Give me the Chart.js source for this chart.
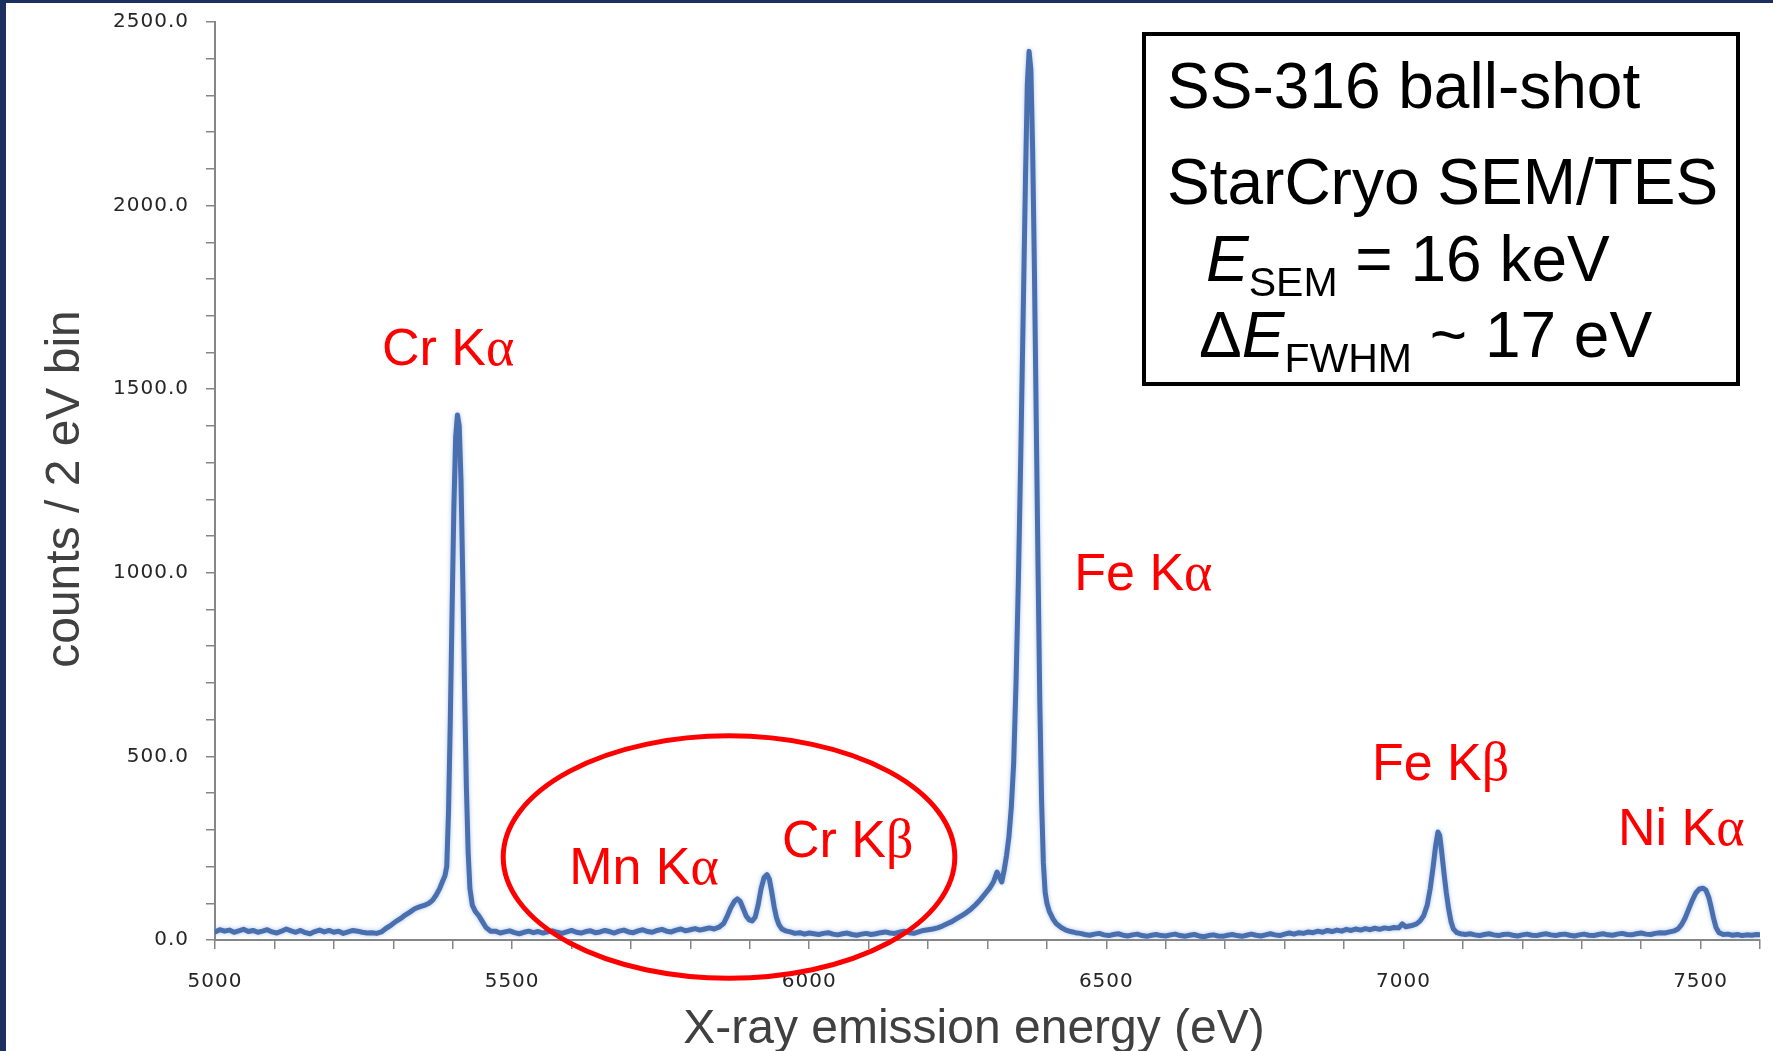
<!DOCTYPE html>
<html>
<head>
<meta charset="utf-8">
<title>SS-316 X-ray emission spectrum</title>
<script src="https://cdn.jsdelivr.net/npm/chart.js@4.4.1/dist/chart.umd.min.js"></script>
<style>
  html, body { margin: 0; padding: 0; background: #ffffff; overflow: hidden; }
  canvas { display: block; }
</style>
</head>
<body>
<canvas id="spectrum" width="1773" height="1051" style="width:1773px;height:1051px"></canvas>
<script>
// Spectrum, [energy (eV), counts per 2 eV bin], split by region of the spectrum.
const bgStart = [
  [5000,22],[5008,28],[5016,24],[5024,27],[5032,21],[5040,25],[5048,29],[5056,23],[5064,26],[5072,21],
  [5080,24],[5088,28],[5096,22],[5104,19],[5112,24],[5120,30],[5128,25],[5136,21],[5144,26],[5152,20],
  [5160,17],[5168,23],[5176,27],[5184,22],[5192,26],[5200,21],[5208,24],[5216,18],[5224,22],[5232,26],
  [5240,24],[5248,21],[5256,19],[5264,20],[5272,18],[5280,22],[5288,32]
];
const crKaRegion = [
  [5296,40],[5304,50],[5312,58],[5320,68],[5328,76],[5336,85],[5344,90],[5352,94],[5360,100],[5366,108],
  [5372,122],[5378,140],[5383,160],[5387,175],[5390,200],[5393,350],[5396,600],[5399,900],[5402,1180],
  [5405,1370],[5408,1430],[5411,1400],[5414,1250],[5417,980],[5420,680],[5423,420],[5426,240],[5429,140],
  [5433,95],[5438,78],[5444,66],[5450,50],[5456,34],[5464,24]
];
const bgMid = [
  [5472,24],[5480,19],[5488,22],[5496,25],[5504,20],[5512,17],[5520,21],[5528,24],[5536,20],[5544,23],
  [5552,19],[5560,22],[5568,25],[5576,21],[5584,18],[5592,22],[5600,26],[5608,21],[5616,19],[5624,23],
  [5632,25],[5640,20],[5648,22],[5656,26],[5664,23],[5672,19],[5680,24],[5688,27],[5696,22],[5704,20],
  [5712,25],[5720,28],[5728,23],[5736,21],[5744,26],[5752,29],[5760,24],[5768,22],[5776,27],[5784,30],
  [5792,25],[5800,28],[5808,31],[5816,27],[5824,30],[5832,33],[5840,30],[5848,35]
];
const mnKaCrKbRegion = [
  [5856,45],[5862,65],[5868,88],[5874,105],[5879,112],[5884,105],[5889,85],[5894,65],[5899,55],[5904,52],
  [5909,62],[5914,95],[5919,140],[5924,170],[5929,178],[5933,165],[5937,130],[5941,90],[5945,60],[5949,42],
  [5954,30],[5960,25]
];
const bgBeforeFe = [
  [5968,22],[5976,18],[5984,20],[5992,16],[6000,19],[6008,17],[6016,15],[6024,18],[6032,20],[6040,16],
  [6048,14],[6056,17],[6064,19],[6072,15],[6080,13],[6088,16],[6096,18],[6104,15],[6112,17],[6120,20],
  [6128,22],[6136,19],[6144,18],[6152,21],[6160,24],[6168,20],[6176,18],[6184,22],[6192,26]
];
const feKaRegion = [
  [6200,28],[6208,30],[6216,33],[6224,38],[6232,44],[6240,50],[6248,58],[6256,66],[6264,74],[6272,84],
  [6280,96],[6288,110],[6296,126],[6304,142],[6310,158],[6316,185],[6320,172],[6324,158],[6328,190],[6332,230],
  [6336,280],[6340,360],[6344,480],[6348,700],[6352,980],[6356,1320],[6360,1700],[6364,2080],[6367,2330],
  [6370,2420],[6373,2370],[6376,2150],[6379,1820],[6382,1420],[6385,1020],[6388,650],[6391,380],[6394,210],
  [6397,130],[6400,100],[6404,78],[6410,58],[6416,44],[6424,34],[6432,27],[6440,23]
];
const bgAfterFe = [
  [6448,20],[6456,18],[6464,15],[6472,13],[6480,16],[6488,18],[6496,14],[6504,12],[6512,15],[6520,17],
  [6528,13],[6536,11],[6544,14],[6552,16],[6560,12],[6568,10],[6576,13],[6584,15],[6592,12],[6600,11],
  [6608,14],[6616,16],[6624,12],[6632,10],[6640,13],[6648,15],[6656,11],[6664,9],[6672,12],[6680,14],
  [6688,11],[6696,10],[6704,13],[6712,15],[6720,12],[6728,10],[6736,13],[6744,16],[6752,13],[6760,11],
  [6768,14],[6776,17],[6784,14],[6792,12],[6800,16],[6808,19],[6816,16],[6824,20],[6832,18],[6840,22],
  [6848,20],[6856,24],[6864,21],[6872,26],[6880,23],[6888,27],[6896,24],[6904,29],[6912,26],[6920,30],
  [6928,27],[6936,31],[6944,28],[6952,32],[6960,29],[6968,33],[6976,31],[6984,34],[6992,33],[6998,44],
  [7004,36],[7010,38],[7016,40],[7022,44]
];
const feKbRegion = [
  [7028,52],[7034,66],[7040,95],[7045,140],[7050,200],[7054,255],[7058,294],[7061,285],[7064,245],[7068,185],
  [7072,130],[7076,85],[7080,50],[7084,30],[7090,20],[7096,17]
];
const bgBeforeNi = [
  [7104,15],[7112,17],[7120,14],[7128,12],[7136,15],[7144,17],[7152,14],[7160,12],[7168,15],[7176,16],
  [7184,13],[7192,11],[7200,14],[7208,16],[7216,13],[7224,12],[7232,15],[7240,17],[7248,14],[7256,12],
  [7264,15],[7272,16],[7280,13],[7288,11],[7296,14],[7304,16],[7312,13],[7320,12],[7328,15],[7336,17],
  [7344,14],[7352,13],[7360,16],[7368,18],[7376,15],[7384,14],[7392,17],[7400,19],[7408,16],[7416,15],
  [7424,18],[7432,20],[7440,19],[7448,22],[7456,25]
];
const niKaRegion = [
  [7462,30],[7468,42],[7474,60],[7480,84],[7486,108],[7492,128],[7498,139],[7504,141],[7509,136],[7514,115],
  [7518,88],[7522,58],[7526,34],[7531,20],[7538,15],[7546,16],[7554,13],[7562,15],[7570,12],[7578,14],
  [7586,13],[7594,15],[7600,14]
];

// Axis tick labels (ticks every 100, labels every 500)
const xTickLabels = ['5000', '5500', '6000', '6500', '7000', '7500'];
const yTickLabels = ['0.0', '500.0', '1000.0', '1500.0', '2000.0', '2500.0'];

// Emission-line labels, anchored at [energy, counts] (left edge, baseline)
const lineNames = ['Cr Kα', 'Mn Kα', 'Cr Kβ', 'Fe Kα', 'Fe Kβ', 'Ni Kα'];
const lineLabelEv = [5281, 5596, 5954, 6446, 6947, 7361];
const lineLabelCounts = [1566, 152, 226, 953, 436, 259];

// Highlight around the weak Mn Kα / Cr Kβ lines: centre and radii in data units
const highlightCentre = [5865, 226];
const highlightRadii = [380, 330];

const spectrum = [
  ...bgStart, ...crKaRegion, ...bgMid, ...mnKaCrKbRegion, ...bgBeforeFe,
  ...feKaRegion, ...bgAfterFe, ...feKbRegion, ...bgBeforeNi, ...niKaRegion
].map(([x, y]) => ({ x, y }));

const SANS = '"Liberation Sans", Arial, sans-serif';
const SERIF = '"Liberation Serif", "Times New Roman", serif';
const GREEK = /[α-ωΑ-Ω]/;

// Draws a run of text pieces one after another: [text, font, baselineShift]
function drawRuns(ctx, x, y, runs, color) {
  ctx.fillStyle = color;
  ctx.textAlign = 'left';
  ctx.textBaseline = 'alphabetic';
  let cx = x;
  for (const [text, font, dy] of runs) {
    ctx.font = font;
    ctx.fillText(text, cx, y + (dy || 0));
    cx += ctx.measureText(text).width;
  }
}

// Splits a line name so Greek letters are set in a serif face
function nameRuns(name, size) {
  const runs = [];
  for (const ch of name) {
    const font = (GREEK.test(ch) ? (size + 2) + 'px ' + SERIF : size + 'px ' + SANS);
    const last = runs[runs.length - 1];
    if (last && last[1] === font) last[0] += ch; else runs.push([ch, font, 0]);
  }
  return runs;
}

const pagePlugin = {
  id: 'page',
  beforeDraw(chart) {
    const { ctx, width, height } = chart;
    ctx.save();
    ctx.fillStyle = '#ffffff';
    ctx.fillRect(0, 0, width, height);
    ctx.fillStyle = '#1d2f5f';
    ctx.fillRect(0, 0, width, 3);
    ctx.fillRect(0, 0, 6, height);
    ctx.restore();
    ctx.letterSpacing = '1px';
  },
  beforeDatasetsDraw(chart) {
    const { ctx } = chart;
    ctx.letterSpacing = '0px';
    // soft halo along the spectrum trace
    ctx.save();
    ctx.shadowColor = 'rgba(110, 150, 215, 0.55)';
    ctx.shadowBlur = 4;
  },
  afterDatasetsDraw(chart) {
    chart.ctx.restore();
  },
  afterDraw(chart) {
    const { ctx } = chart;
    const xs = chart.scales.x, ys = chart.scales.y;
    ctx.save();
    ctx.letterSpacing = '0px';

    // Axis titles
    ctx.fillStyle = '#404040';
    ctx.font = '48px ' + SANS;
    ctx.textAlign = 'center';
    ctx.textBaseline = 'alphabetic';
    ctx.fillText('X-ray emission energy (eV)', 974, 1043);
    ctx.save();
    ctx.translate(79, 489);
    ctx.rotate(-Math.PI / 2);
    ctx.fillText('counts / 2 eV bin', 0, 0);
    ctx.restore();

    // Emission-line labels
    lineNames.forEach((name, i) => {
      const px = xs.getPixelForValue(lineLabelEv[i]);
      const py = ys.getPixelForValue(lineLabelCounts[i]);
      drawRuns(ctx, px, py, nameRuns(name, 52), '#ff0000');
    });

    // Highlight ellipse
    const cx = xs.getPixelForValue(highlightCentre[0]);
    const cy = ys.getPixelForValue(highlightCentre[1]);
    const rx = Math.abs(xs.getPixelForValue(highlightCentre[0] + highlightRadii[0]) - cx);
    const ry = Math.abs(ys.getPixelForValue(highlightCentre[1] + highlightRadii[1]) - cy);
    ctx.beginPath();
    ctx.ellipse(cx, cy, rx, ry, 0, 0, Math.PI * 2);
    ctx.strokeStyle = '#ff0000';
    ctx.lineWidth = 5;
    ctx.stroke();

    // Measurement info box
    ctx.fillStyle = '#ffffff';
    ctx.fillRect(1144, 34, 594, 350);
    ctx.strokeStyle = '#000000';
    ctx.lineWidth = 4;
    ctx.strokeRect(1144, 34, 594, 350);
    const big = '64px ' + SANS, bigIt = 'italic 64px ' + SANS, sub = '41px ' + SANS;
    drawRuns(ctx, 1167, 108, [['SS-316 ball-shot', big, 0]], '#000000');
    drawRuns(ctx, 1167, 204, [['StarCryo SEM/TES', big, 0]], '#000000');
    drawRuns(ctx, 1206, 281, [['E', bigIt, 0], ['SEM', sub, 15], [' = 16 keV', big, 0]], '#000000');
    drawRuns(ctx, 1199, 357, [['Δ', big, 0], ['E', bigIt, 0], ['FWHM', sub, 15], [' ~ 17 eV', big, 0]], '#000000');
    ctx.restore();
  }
};

const axisGrey = '#868686';
const tickFont = { family: '"DejaVu Sans", Verdana, sans-serif', size: 20 };

new Chart(document.getElementById('spectrum'), {
  type: 'line',
  data: {
    datasets: [{
      data: spectrum,
      borderColor: '#4a6fae',
      borderWidth: 5,
      pointRadius: 0,
      tension: 0,
      fill: false,
      borderJoinStyle: 'round',
      borderCapStyle: 'round'
    }]
  },
  options: {
    responsive: false,
    animation: false,
    layout: { padding: { left: 0, right: 13, top: 22, bottom: 0 } },
    plugins: { legend: { display: false }, tooltip: { enabled: false } },
    scales: {
      x: {
        type: 'linear',
        min: 5000,
        max: 7600,
        ticks: {
          stepSize: 100,
          autoSkip: false,
          maxRotation: 0,
          padding: 21,
          color: '#262626',
          font: tickFont,
          callback: (v) => (xTickLabels.includes(String(v)) ? String(v) : '')
        },
        grid: { drawOnChartArea: false, drawTicks: true, tickLength: 9, color: axisGrey, lineWidth: 1.5 },
        border: { display: true, color: axisGrey, width: 2 },
        afterFit(scale) {
          scale.height = 111;
          scale.paddingLeft = 0;
          scale.paddingRight = 0;
        }
      },
      y: {
        type: 'linear',
        min: 0,
        max: 2500,
        ticks: {
          stepSize: 100,
          autoSkip: false,
          padding: 17,
          color: '#262626',
          font: tickFont,
          callback: (v) => (yTickLabels.includes(Number(v).toFixed(1)) ? Number(v).toFixed(1) : '')
        },
        grid: { drawOnChartArea: false, drawTicks: true, tickLength: 9, color: axisGrey, lineWidth: 1.5 },
        border: { display: true, color: axisGrey, width: 2 },
        afterFit(scale) {
          scale.width = 215;
          scale.paddingTop = 0;
          scale.paddingBottom = 0;
        }
      }
    }
  },
  plugins: [pagePlugin]
});
</script>
</body>
</html>
